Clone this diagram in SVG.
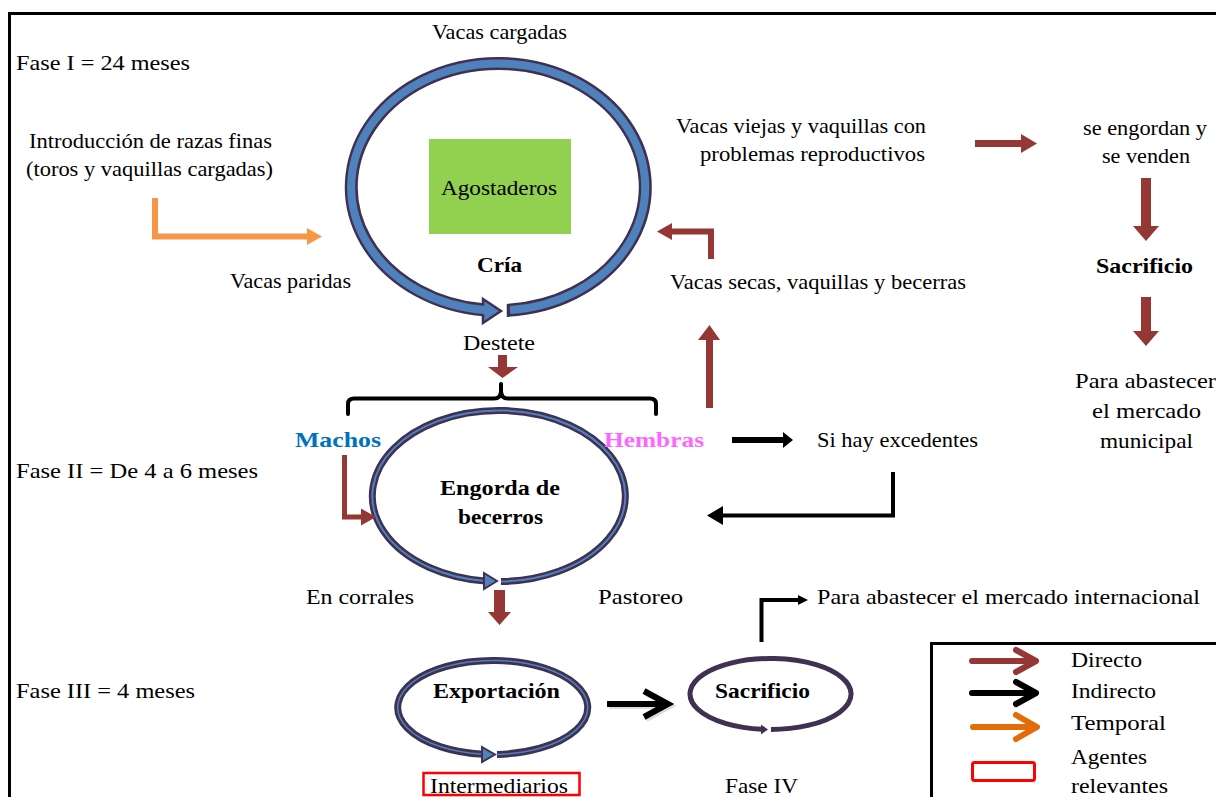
<svg xmlns="http://www.w3.org/2000/svg" width="1216" height="797" viewBox="0 0 1216 797">
<style>
text{font-family:"Liberation Serif","Times New Roman",serif;font-size:22px;fill:#000}
.b{font-weight:bold}
.dk{fill:none;stroke:#3f3151}
.bl{fill:none;stroke:#4f81bd}
.br{fill:#953735}
.brs{fill:none;stroke:#953735}
.blk{fill:none;stroke:#000}
</style>
<rect width="1216" height="797" fill="#fff"/>
<path d="M9.5,797 V13.5 H1216" fill="none" stroke="#000" stroke-width="3"/>

<g id="node-cria">
<path class="dk" stroke-width="13" d="M508,310.2 A147,123.5 0 1 0 483,309.8"/>
<polygon points="483,299 501,311 483,323" fill="#4f81bd" stroke="#3f3151" stroke-width="2.5" stroke-linejoin="miter"/>
<path class="bl" stroke-width="8" d="M510,310.1 A147,123.5 0 1 0 485,310"/>
<line x1="508" y1="304" x2="508" y2="317" stroke="#3f3151" stroke-width="2.5"/>
<rect x="429" y="139" width="142" height="95" fill="#92d050"/>
<text x="441" y="195" textLength="116" lengthAdjust="spacingAndGlyphs">Agostaderos</text>
<text class="b" x="477" y="272" textLength="45" lengthAdjust="spacingAndGlyphs">Cría</text>
</g>

<g id="node-engorda">
<path class="dk" stroke-width="7" d="M501,581.5 A126.5,85.5 0 1 0 485,581"/>
<path class="bl" stroke-width="2" d="M501,581.5 A126.5,85.5 0 1 0 485,581"/>
<polygon points="484,573 497,581 484,589" fill="#4f81bd" stroke="#3f3151" stroke-width="2"/>
<text class="b" x="440" y="495" textLength="120" lengthAdjust="spacingAndGlyphs">Engorda de</text>
<text class="b" x="458" y="524" textLength="85" lengthAdjust="spacingAndGlyphs">becerros</text>
</g>

<g id="node-exportacion">
<path class="dk" stroke-width="7" d="M497,754.4 A95,47 0 1 0 483,754.2"/>
<path class="bl" stroke-width="1.5" d="M497,754.4 A95,47 0 1 0 483,754.2"/>
<polygon points="482,747 495,754.5 482,762" fill="#4f81bd" stroke="#3f3151" stroke-width="2"/>
<text class="b" x="433" y="698" textLength="127" lengthAdjust="spacingAndGlyphs">Exportación</text>
</g>

<g id="node-sacrificio-iv">
<path class="dk" stroke-width="5" d="M771,729.5 A80.5,35.5 0 1 0 762,729.3"/>
<polygon points="761,724.5 768,729.5 761,734.5" fill="#3f3151"/>
<text class="b" x="715" y="698" textLength="95" lengthAdjust="spacingAndGlyphs">Sacrificio</text>
</g>

<g id="labels">
<text x="432" y="39" textLength="135" lengthAdjust="spacingAndGlyphs">Vacas cargadas</text>
<text x="16" y="70" textLength="174" lengthAdjust="spacingAndGlyphs">Fase I = 24 meses</text>
<text x="29" y="148" textLength="243" lengthAdjust="spacingAndGlyphs">Introducción de razas finas</text>
<text x="26" y="176" textLength="247" lengthAdjust="spacingAndGlyphs">(toros y vaquillas cargadas)</text>
<text x="230" y="288" textLength="121" lengthAdjust="spacingAndGlyphs">Vacas paridas</text>
<text x="463" y="350" textLength="72" lengthAdjust="spacingAndGlyphs">Destete</text>
<text x="676" y="133" textLength="250" lengthAdjust="spacingAndGlyphs">Vacas viejas y vaquillas con</text>
<text x="700" y="161" textLength="225" lengthAdjust="spacingAndGlyphs">problemas reproductivos</text>
<text x="1083" y="135" textLength="124" lengthAdjust="spacingAndGlyphs">se engordan y</text>
<text x="1102" y="163" textLength="88" lengthAdjust="spacingAndGlyphs">se venden</text>
<text class="b" x="1096" y="273" textLength="97" lengthAdjust="spacingAndGlyphs">Sacrificio</text>
<text x="670" y="289" textLength="296" lengthAdjust="spacingAndGlyphs">Vacas secas, vaquillas y becerras</text>
<text x="1075" y="388" textLength="141" lengthAdjust="spacingAndGlyphs">Para abastecer</text>
<text x="1092" y="418" textLength="109" lengthAdjust="spacingAndGlyphs">el mercado</text>
<text x="1100" y="448" textLength="93" lengthAdjust="spacingAndGlyphs">municipal</text>
<text class="b" x="295" y="447" textLength="86" lengthAdjust="spacingAndGlyphs" style="fill:#0070c0">Machos</text>
<text class="b" x="604" y="447" textLength="100" lengthAdjust="spacingAndGlyphs" style="fill:#ff66ff">Hembras</text>
<text x="817" y="447" textLength="161" lengthAdjust="spacingAndGlyphs">Si hay excedentes</text>
<text x="16" y="478" textLength="242" lengthAdjust="spacingAndGlyphs">Fase II = De 4 a 6 meses</text>
<text x="306" y="604" textLength="108" lengthAdjust="spacingAndGlyphs">En corrales</text>
<text x="598" y="604" textLength="85" lengthAdjust="spacingAndGlyphs">Pastoreo</text>
<text x="817" y="604" textLength="383" lengthAdjust="spacingAndGlyphs">Para abastecer el mercado internacional</text>
<text x="16" y="698" textLength="179" lengthAdjust="spacingAndGlyphs">Fase III = 4 meses</text>
<text x="725" y="793" textLength="73" lengthAdjust="spacingAndGlyphs">Fase IV</text>
</g>

<g id="node-intermediarios">
<rect x="423.5" y="773" width="156" height="22" fill="none" stroke="#ff0000" stroke-width="2.5"/>
<text x="430" y="793" textLength="138" lengthAdjust="spacingAndGlyphs">Intermediarios</text>
</g>

<g id="connectors">
<!-- orange temporal -->
<path d="M155,198 V236.5 H308" fill="none" stroke="#f79646" stroke-width="6"/>
<polygon points="307,228 322,236.5 307,245" fill="#f79646"/>
<!-- destete down -->
<polygon class="br" points="498,355 507,355 507,367 518,367 502.5,378 488,367 498,367"/>
<!-- brace -->
<path class="blk" stroke-width="4" stroke-linecap="round" d="M348,414 V404 Q348,398.5 354,398.5 H494 Q501,398.5 501,391 V384 M501,391 Q501,398.5 508,398.5 H650 Q656,398.5 656,404 V414"/>
<!-- machos -->
<path class="brs" stroke-width="5" d="M344.5,455 V517 H362"/>
<polygon class="br" points="361,508.5 376,517 361,525.5"/>
<!-- below engorda -->
<polygon class="br" points="494,590 505,590 505,612 511,612 499.5,625 488,612 494,612"/>
<!-- hembras up -->
<polygon class="br" points="706,408 713,408 713,340 720,340 709.5,325 698,340 706,340"/>
<!-- elbow to cria -->
<path class="brs" stroke-width="6" d="M711,259 V231.5 H671"/>
<polygon class="br" points="672,223 657,231.5 672,240"/>
<!-- vacas viejas -> se engordan -->
<polygon class="br" points="975,140 1021,140 1021,134 1037,143.5 1021,153 1021,147 975,147"/>
<!-- se venden down -->
<polygon class="br" points="1141,178 1151,178 1151,226 1159,226 1146,241 1133,226 1141,226"/>
<!-- sacrificio down -->
<polygon class="br" points="1141,297 1151,297 1151,331 1159,331 1146,346 1133,331 1141,331"/>
<!-- hembras -> si hay -->
<polygon points="732,437 783,437 783,432 793,440 783,448 783,443 732,443" fill="#000"/>
<!-- return -->
<path class="blk" stroke-width="4" d="M893,472 V515.5 H722"/>
<polygon points="723,506 707,515.5 723,525" fill="#000"/>
<!-- exportacion -> sacrificio -->
<path d="M609,706 H666 M646,693 L670,706 L646,719" fill="none" stroke="#bbb" stroke-width="6" opacity="0.5"/>
<path class="blk" stroke-width="6" d="M607,704 H666 M644,691 L668,704 L644,717"/>
<!-- sacrificio -> internacional -->
<path class="blk" stroke-width="4" d="M761.5,642 V600 H799"/>
<polygon points="798,595 808,600 798,605" fill="#000"/>
</g>

<g id="legend">
<rect x="931.5" y="643.5" width="300" height="170" fill="none" stroke="#000" stroke-width="3"/>
<path d="M972,661 H1033 M1016,650 L1036,661 L1016,672" fill="none" stroke="#953735" stroke-width="6" stroke-linecap="round" stroke-linejoin="round"/>
<path d="M972,693 H1033 M1016,682 L1036,693 L1016,704" fill="none" stroke="#000" stroke-width="6" stroke-linecap="round" stroke-linejoin="round"/>
<path d="M973,727 H1034 M1016,715 L1037,727 L1016,739" fill="none" stroke="#e36c09" stroke-width="6" stroke-linecap="round" stroke-linejoin="round"/>
<rect x="972.5" y="762.5" width="62" height="18" rx="2" fill="none" stroke="#ff0000" stroke-width="3"/>
<text x="1071" y="667" textLength="71" lengthAdjust="spacingAndGlyphs">Directo</text>
<text x="1071" y="698" textLength="85" lengthAdjust="spacingAndGlyphs">Indirecto</text>
<text x="1071" y="730" textLength="95" lengthAdjust="spacingAndGlyphs">Temporal</text>
<text x="1071" y="764" textLength="76" lengthAdjust="spacingAndGlyphs">Agentes</text>
<text x="1071" y="793" textLength="97" lengthAdjust="spacingAndGlyphs">relevantes</text>
</g>
</svg>
